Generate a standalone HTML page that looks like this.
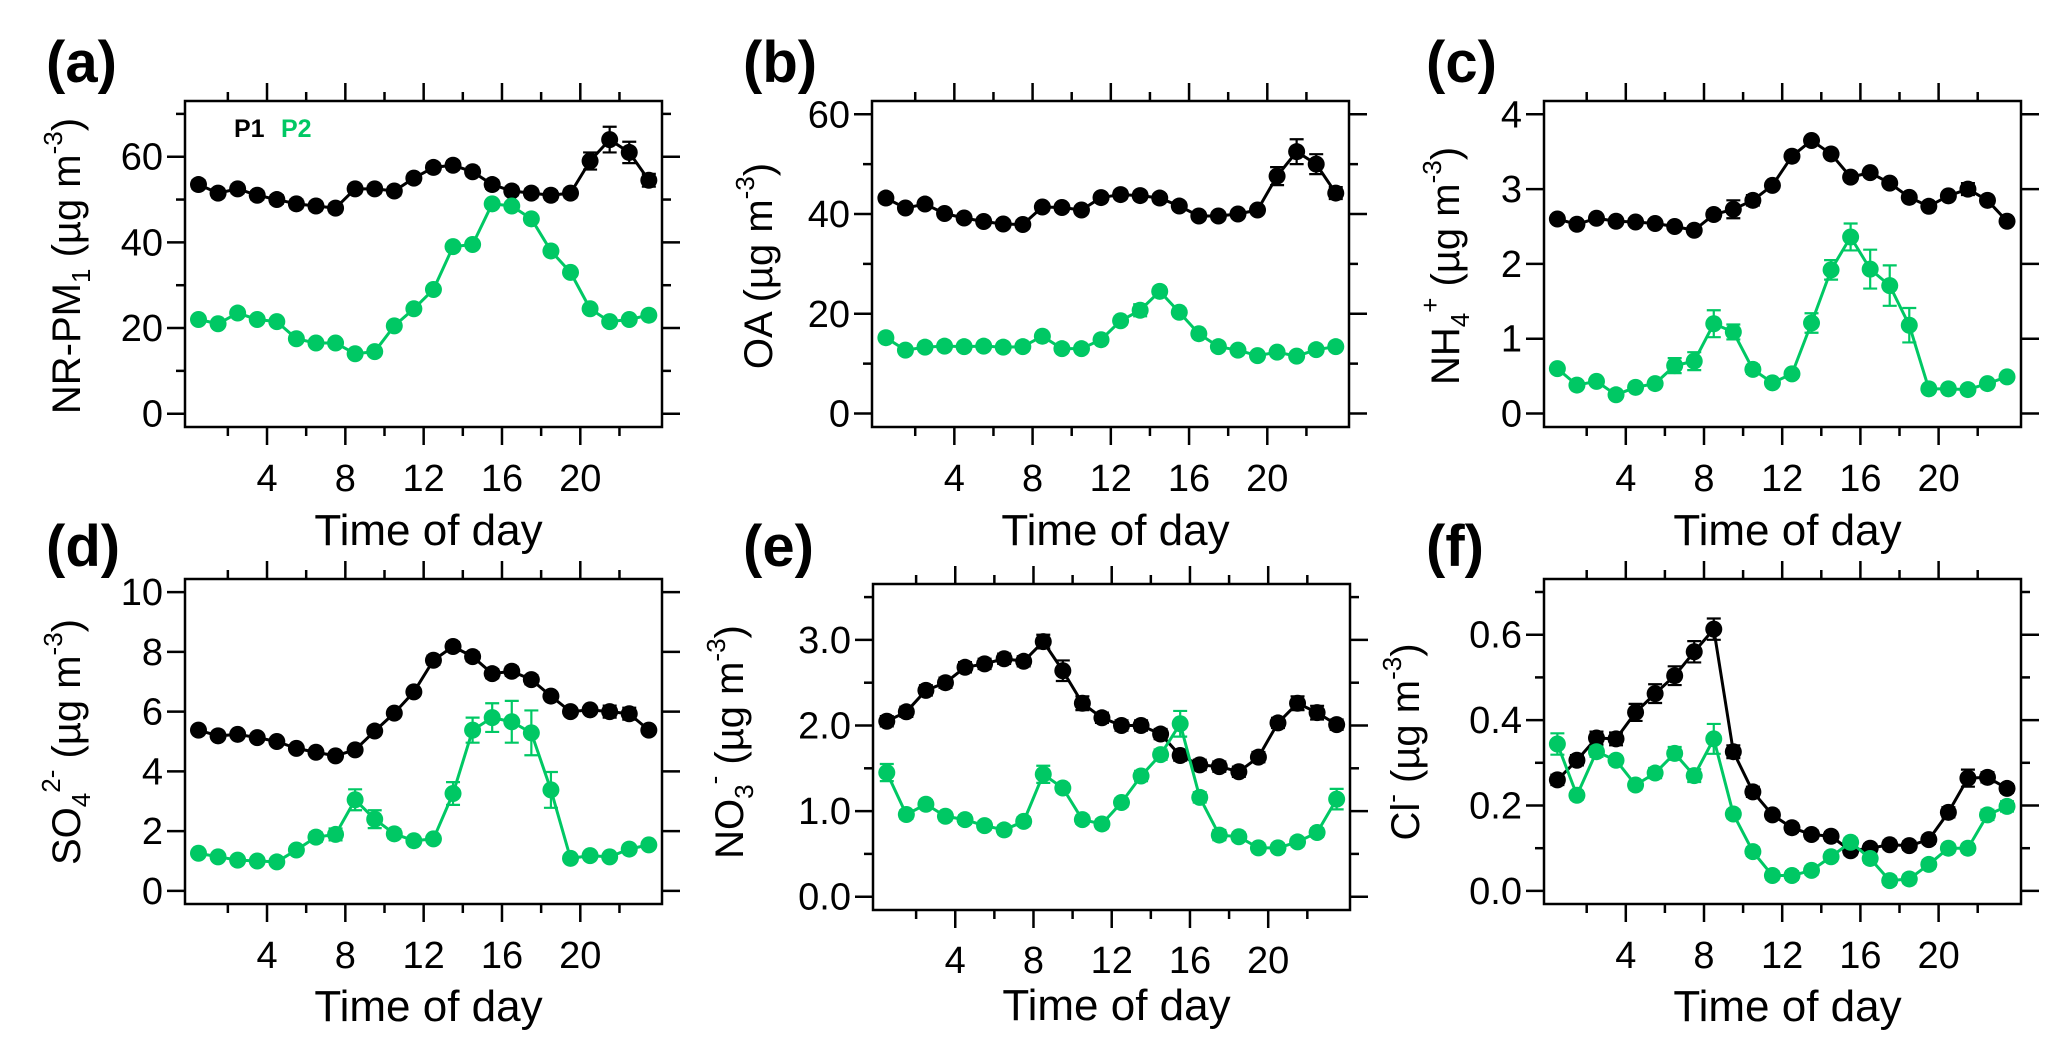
<!DOCTYPE html>
<html><head><meta charset="utf-8"><title>Diurnal profiles</title>
<style>
html,body{margin:0;padding:0;background:#fff;}
svg{display:block;font-family:"Liberation Sans","DejaVu Sans",sans-serif;}
</style></head>
<body>
<svg id="fig" width="2067" height="1056" viewBox="0 0 2067 1056" xmlns="http://www.w3.org/2000/svg">
<rect width="2067" height="1056" fill="#fff"/>
<g font-weight="bold" font-size="58">
<text x="46" y="82">(a)</text>
<text x="743" y="82">(b)</text>
<text x="1426" y="82">(c)</text>
<text x="46" y="566">(d)</text>
<text x="743" y="566">(e)</text>
<text x="1426" y="566">(f)</text>
</g>
<g font-weight="bold" font-size="25">
<text x="234" y="137" fill="#000">P1</text>
<text x="281" y="137" fill="#00c864">P2</text>
</g>
<g font-size="40">
<text transform="translate(80,266) rotate(-90)" text-anchor="middle">NR-PM<tspan font-size="26" dy="10">1</tspan><tspan dy="-10"> (µg m</tspan><tspan font-size="26" dy="-18">-3</tspan><tspan dy="18">)</tspan></text>
<text transform="translate(772,266) rotate(-90)" text-anchor="middle">OA (µg m<tspan font-size="26" dy="-18">-3</tspan><tspan dy="18">)</tspan></text>
<text transform="translate(1459,266) rotate(-90)" text-anchor="middle">NH<tspan font-size="26" dy="10">4</tspan><tspan font-size="26" dy="-30">+</tspan><tspan dy="20"> (µg m</tspan><tspan font-size="26" dy="-18">-3</tspan><tspan dy="18">)</tspan></text>
<text transform="translate(80,742) rotate(-90)" text-anchor="middle">SO<tspan font-size="26" dy="10">4</tspan><tspan font-size="26" dy="-30">2-</tspan><tspan dy="20"> (µg m</tspan><tspan font-size="26" dy="-18">-3</tspan><tspan dy="18">)</tspan></text>
<text transform="translate(743,742) rotate(-90)" text-anchor="middle">NO<tspan font-size="26" dy="10">3</tspan><tspan font-size="26" dy="-30">-</tspan><tspan dy="20"> (µg m</tspan><tspan font-size="26" dy="-18">-3</tspan><tspan dy="18">)</tspan></text>
<text transform="translate(1419,742) rotate(-90)" text-anchor="middle">Cl<tspan font-size="26" dy="-18">-</tspan><tspan dy="18"> (µg m</tspan><tspan font-size="26" dy="-18">-3</tspan><tspan dy="18">)</tspan></text>
</g>
</svg>
<script>
const hours = [0.5,1.5,2.5,3.5,4.5,5.5,6.5,7.5,8.5,9.5,10.5,11.5,12.5,13.5,14.5,15.5,16.5,17.5,18.5,19.5,20.5,21.5,22.5,23.5];
const xTickMajor = [4,8,12,16,20];
const xTickMinor = [2,6,10,14,18,22];

const aP1 = [53.5,51.5,52.5,51,50,49,48.5,48,52.5,52.5,52,55,57.5,58,56.5,53.5,52,51.5,51,51.5,59,64,61,54.5];
const aP2 = [22,21,23.5,22,21.5,17.5,16.5,16.5,14,14.5,20.5,24.5,29,39,39.5,49,48.5,45.5,38,33,24.5,21.5,22,23];
const aE1 = [1,1,1,1,1,1,1,1,1,1,1,1,1,1,1,1,1,1,1,1,2,3,2.5,1.5];
const aE2 = [0.8,0.8,0.8,0.8,0.8,0.8,0.8,0.8,0.8,0.8,0.8,0.8,0.8,0.8,0.8,0.8,0.8,0.8,0.8,0.8,0.8,0.8,0.8,0.8];

const bP1 = [43.2,41.2,42,40.1,39.2,38.5,38,37.9,41.4,41.3,40.8,43.3,43.9,43.7,43.2,41.6,39.6,39.6,40,40.8,47.6,52.5,50,44.2];
const bP2 = [15.2,12.7,13.3,13.5,13.4,13.5,13.3,13.4,15.5,13,13,14.8,18.6,20.7,24.5,20.3,16,13.4,12.7,11.6,12.3,11.5,12.8,13.4];
const bE1 = [0.8,0.8,0.8,0.8,0.8,0.8,0.8,0.8,0.8,0.8,0.8,0.8,0.8,0.8,0.8,0.8,0.8,0.8,0.8,0.8,1.8,2.5,2,1.2];
const bE2 = [0.5,0.5,0.5,0.5,0.5,0.5,0.5,0.5,0.5,0.5,0.5,0.5,0.8,1.2,0.8,0.8,0.8,0.8,0.5,0.5,0.5,0.5,0.5,0.5];

const cP1 = [2.6,2.53,2.61,2.57,2.56,2.54,2.5,2.45,2.66,2.73,2.85,3.05,3.44,3.65,3.47,3.16,3.22,3.08,2.89,2.77,2.91,3.0,2.85,2.57];
const cP2 = [0.6,0.38,0.43,0.25,0.35,0.4,0.64,0.7,1.2,1.09,0.59,0.41,0.53,1.21,1.92,2.36,1.93,1.71,1.18,0.33,0.33,0.32,0.4,0.49];
const cE1 = [0.05,0.05,0.05,0.05,0.05,0.05,0.05,0.05,0.06,0.12,0.07,0.05,0.05,0.05,0.05,0.05,0.05,0.05,0.05,0.05,0.05,0.08,0.05,0.05];
const cE2 = [0.04,0.04,0.04,0.04,0.04,0.04,0.1,0.12,0.18,0.1,0.06,0.04,0.05,0.13,0.13,0.18,0.26,0.27,0.23,0.04,0.04,0.04,0.04,0.04];

const dP1 = [5.38,5.19,5.24,5.13,5.0,4.77,4.64,4.52,4.72,5.35,5.95,6.66,7.72,8.18,7.84,7.27,7.35,7.07,6.52,6.0,6.06,6.0,5.93,5.38];
const dP2 = [1.26,1.14,1.03,1.0,0.97,1.37,1.8,1.89,3.05,2.4,1.91,1.68,1.74,3.26,5.38,5.8,5.66,5.29,3.38,1.09,1.18,1.14,1.4,1.54];
const dE1 = [0.12,0.12,0.12,0.12,0.12,0.12,0.12,0.12,0.12,0.12,0.12,0.12,0.15,0.15,0.15,0.15,0.15,0.15,0.12,0.12,0.12,0.2,0.2,0.12];
const dE2 = [0.1,0.1,0.1,0.1,0.1,0.1,0.15,0.2,0.35,0.3,0.15,0.1,0.1,0.38,0.42,0.48,0.7,0.75,0.6,0.1,0.1,0.1,0.1,0.1];

const eP1 = [2.05,2.16,2.41,2.5,2.68,2.72,2.78,2.75,2.98,2.64,2.26,2.09,2.0,2.0,1.9,1.65,1.54,1.52,1.46,1.63,2.03,2.26,2.15,2.01];
const eP2 = [1.45,0.96,1.08,0.94,0.9,0.83,0.78,0.88,1.43,1.27,0.9,0.85,1.1,1.41,1.66,2.02,1.16,0.72,0.7,0.57,0.57,0.64,0.75,1.14];
const eE1 = [0.06,0.06,0.06,0.06,0.06,0.06,0.06,0.06,0.08,0.12,0.08,0.06,0.06,0.06,0.06,0.06,0.06,0.06,0.06,0.06,0.06,0.08,0.08,0.06];
const eE2 = [0.1,0.05,0.05,0.05,0.05,0.05,0.05,0.05,0.1,0.05,0.05,0.05,0.05,0.06,0.06,0.15,0.06,0.06,0.05,0.05,0.05,0.05,0.05,0.12];

const fP1 = [0.26,0.306,0.358,0.356,0.418,0.462,0.504,0.56,0.613,0.326,0.232,0.178,0.148,0.132,0.128,0.094,0.1,0.108,0.106,0.12,0.184,0.264,0.266,0.24];
const fP2 = [0.344,0.224,0.326,0.306,0.248,0.276,0.322,0.27,0.356,0.18,0.092,0.036,0.036,0.048,0.08,0.114,0.076,0.024,0.028,0.062,0.1,0.1,0.178,0.198];
const fE1 = [0.012,0.012,0.015,0.015,0.02,0.022,0.022,0.025,0.025,0.015,0.012,0.01,0.01,0.01,0.01,0.01,0.01,0.01,0.01,0.01,0.012,0.02,0.012,0.01];
const fE2 = [0.025,0.01,0.012,0.01,0.01,0.012,0.015,0.015,0.035,0.01,0.01,0.01,0.01,0.01,0.01,0.01,0.01,0.01,0.01,0.01,0.01,0.01,0.012,0.012];

const aYMajor=[0,20,40,60], aYMinor=[10,30,50,70], aYLabels=["0","20","40","60"];
const bYMajor=[0,20,40,60], bYMinor=[10,30,50], bYLabels=["0","20","40","60"];
const cYMajor=[0,1,2,3,4], cYMinor=[], cYLabels=["0","1","2","3","4"];
const dYMajor=[0,2,4,6,8,10], dYMinor=[], dYLabels=["0","2","4","6","8","10"];
const eYMajor=[0,1,2,3], eYMinor=[0.5,1.5,2.5,3.5], eYLabels=["0.0","1.0","2.0","3.0"];
const fYMajor=[0,0.2,0.4,0.6], fYMinor=[0.1,0.3,0.5,0.7], fYLabels=["0.0","0.2","0.4","0.6"];

const NS="http://www.w3.org/2000/svg";
const svg=document.getElementById('fig');
const GREEN="#00c864";
function mk(tag,attrs,parent){const e=document.createElementNS(NS,tag);for(const k in attrs)e.setAttribute(k,attrs[k]);parent.appendChild(e);return e;}

const panels=[
 {id:'a',box:[185,662,101,427],x0:188.7,pph:19.58,y0:413.7,ppu:4.283,ym:aYMajor,yn:aYMinor,yl:aYLabels,p1:aP1,p2:aP2,e1:aE1,e2:aE2,tickY:491,titleY:545},
 {id:'b',box:[872,1349,101,427],x0:876.1,pph:19.56,y0:413.5,ppu:4.987,ym:bYMajor,yn:bYMinor,yl:bYLabels,p1:bP1,p2:bP2,e1:bE1,e2:bE2,tickY:491,titleY:545},
 {id:'c',box:[1544,2021,101,427],x0:1547.6,pph:19.55,y0:413.5,ppu:74.8,ym:cYMajor,yn:cYMinor,yl:cYLabels,p1:cP1,p2:cP2,e1:cE1,e2:cE2,tickY:491,titleY:545},
 {id:'d',box:[185,662,579,904],x0:188.7,pph:19.58,y0:890.9,ppu:29.88,ym:dYMajor,yn:dYMinor,yl:dYLabels,p1:dP1,p2:dP2,e1:dE1,e2:dE2,tickY:968,titleY:1021},
 {id:'e',box:[873,1350,584,910],x0:877,pph:19.56,y0:896.7,ppu:85.6,ym:eYMajor,yn:eYMinor,yl:eYLabels,p1:eP1,p2:eP2,e1:eE1,e2:eE2,tickY:973,titleY:1020},
 {id:'f',box:[1544,2021,579,904],x0:1547.6,pph:19.55,y0:890.9,ppu:427,ym:fYMajor,yn:fYMinor,yl:fYLabels,p1:fP1,p2:fP2,e1:fE1,e2:fE2,tickY:968,titleY:1021}
];

panels.forEach(p=>{
  const X=h=>p.x0+h*p.pph, Y=v=>p.y0-v*p.ppu;
  const [L,R,T,B]=p.box;
  const g=mk('g',{},svg);
  
  
  const frame=mk('rect',{x:L,y:T,width:R-L,height:B-T,fill:'none',stroke:'#000','stroke-width':2.5},g);
  
  
  const ax=mk('g',{stroke:'#000','stroke-width':2.5},g);
  
  
  xTickMajor.forEach(h=>{const x=X(h);mk('line',{x1:x,x2:x,y1:B,y2:B+18},ax);mk('line',{x1:x,x2:x,y1:T,y2:T-18},ax);});
  xTickMinor.forEach(h=>{const x=X(h);mk('line',{x1:x,x2:x,y1:B,y2:B+9},ax);mk('line',{x1:x,x2:x,y1:T,y2:T-9},ax);});
  p.ym.forEach(v=>{const y=Y(v);mk('line',{x1:L,x2:L-18,y1:y,y2:y},ax);mk('line',{x1:R,x2:R+18,y1:y,y2:y},ax);});
  p.yn.forEach(v=>{const y=Y(v);mk('line',{x1:L,x2:L-9,y1:y,y2:y},ax);mk('line',{x1:R,x2:R+9,y1:y,y2:y},ax);});
  const tl=mk('g',{'font-size':38,fill:'#000'},g);
  
  
  xTickMajor.forEach(h=>{const t=mk('text',{x:X(h),y:p.tickY,'text-anchor':'middle'},tl);t.textContent=String(h);});
  p.ym.forEach((v,i)=>{const t=mk('text',{x:L-22,y:Y(v)+13,'text-anchor':'end'},tl);t.textContent=p.yl[i];});
  const xt=mk('text',{x:(L+R)/2+5,y:p.titleY,'text-anchor':'middle','font-size':44},g);
  
  
  xt.textContent='Time of day';
  [[p.p1,p.e1,'#000','p1'],[p.p2,p.e2,GREEN,'p2']].forEach(([vals,errs,col,nm])=>{
    const sg=mk('g',{},g);
    
    
    const pts=hours.map((h,i)=>X(h)+','+Y(vals[i])).join(' ');
    const pl=mk('polyline',{points:pts,fill:'none',stroke:col,'stroke-width':3,'stroke-linejoin':'round'},sg);
    
    
    hours.forEach((h,i)=>{
      const x=X(h),yt=Y(vals[i]+errs[i]),yb=Y(vals[i]-errs[i]);
      const eb=mk('path',{d:`M${x},${yt}V${yb}M${x-7},${yt}H${x+7}M${x-7},${yb}H${x+7}`,stroke:col,'stroke-width':2.2,fill:'none'},sg);
      
      
      const c=mk('circle',{cx:x,cy:Y(vals[i]),r:8.5,fill:col},sg);
      
      
    });
  });
});
</script>
</body></html>
